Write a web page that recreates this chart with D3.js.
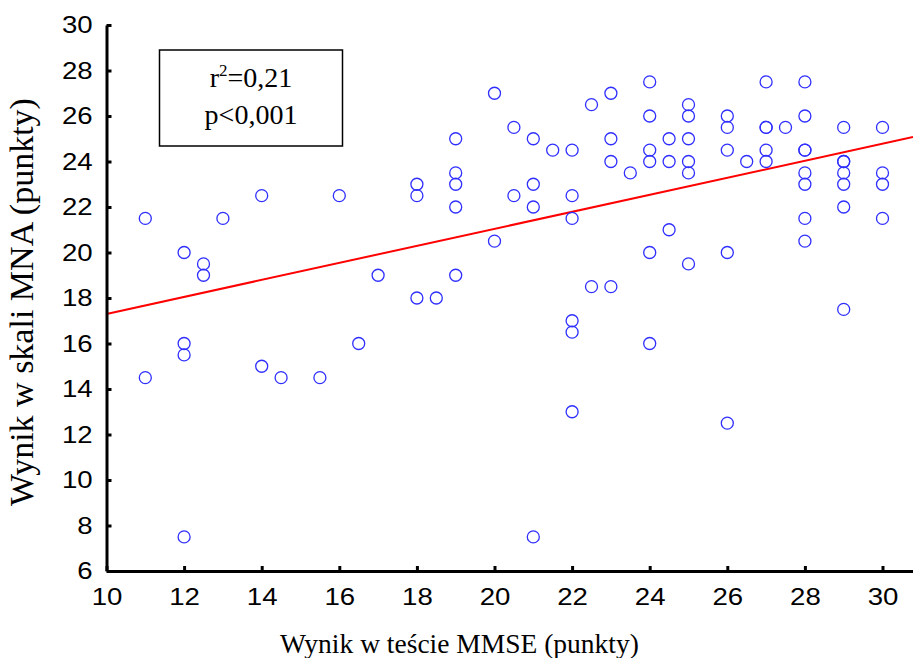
<!DOCTYPE html>
<html>
<head>
<meta charset="utf-8">
<script src="https://cdn.jsdelivr.net/npm/d3@7"></script>
<style>
  html, body { margin: 0; padding: 0; background: #fff; }
  svg { display: block; }
</style>
</head>
<body>
<svg id="chart" width="913" height="658"></svg>
<script>
// MMSE score (x) and MNA score (y) for each patient
const mmse = [
  11, 11, 12, 12, 12, 12, 12.5, 12.5, 13, 14, 14, 14.5, 15.5, 16, 16.5, 17,
  18, 18, 18, 18.5, 19, 19, 19, 19, 19, 20, 20, 20.5, 20.5,
  21, 21, 21, 21, 21.5, 22, 22, 22, 22, 22, 22, 22.5, 22.5,
  23, 23, 23, 23, 23.5, 24, 24, 24, 24, 24, 24, 24.5, 24.5, 24.5,
  25, 25, 25, 25, 25, 25, 26, 26, 26, 26, 26, 26.5,
  27, 27, 27, 27, 27, 27.5, 28, 28, 28, 28, 28, 28, 28, 28,
  29, 29, 29, 29, 29, 29, 29, 30, 30, 30, 30
];
const mna = [
  21.5, 14.5, 20, 16, 15.5, 7.5, 19.5, 19, 21.5, 22.5, 15, 14.5, 14.5, 22.5, 16, 19,
  23, 22.5, 18, 18, 25, 23.5, 23, 22, 19, 27, 20.5, 25.5, 22.5,
  25, 23, 22, 7.5, 24.5, 24.5, 22.5, 21.5, 17, 16.5, 13, 26.5, 18.5,
  27, 25, 24, 18.5, 23.5, 27.5, 26, 24.5, 24, 20, 16, 25, 24, 21,
  26.5, 26, 25, 24, 23.5, 19.5, 26, 25.5, 24.5, 20, 12.5, 24,
  27.5, 25.5, 25.5, 24.5, 24, 25.5, 27.5, 26, 24.5, 24.5, 23.5, 23, 21.5, 20.5,
  25.5, 24, 24, 23.5, 23, 22, 17.5, 25.5, 23.5, 23, 21.5
];
const xTicks = [10, 12, 14, 16, 18, 20, 22, 24, 26, 28, 30];
const yTicks = [6, 8, 10, 12, 14, 16, 18, 20, 22, 24, 26, 28, 30];
// fitted regression line: MNA = intercept + slope * MMSE
const fitIntercept = 13.56;
const fitSlope = 0.374;
const statsLines = [["r", "2", "=0,21"], ["p<0,001"]];
const xTitle = "Wynik w teście MMSE (punkty)";
const yTitle = "Wynik w skali MNA (punkty)";

const svg = d3.select("#chart");
const plotLeft = 106.5, plotRight = 913, plotTop = 25, plotBottom = 571;
const xMax = 10 + (plotRight - plotLeft) / 38.8;

const x = d3.scaleLinear().domain([10, xMax]).range([plotLeft, plotRight]);
const y = d3.scaleLinear().domain([6, 30]).range([plotBottom, plotTop]);

const serif = "'Liberation Serif', 'Times New Roman', serif";
const sans = "'Liberation Sans', Arial, sans-serif";

// regression line
svg.append("line")
  .attr("x1", x(10)).attr("y1", y(fitIntercept + fitSlope * 10))
  .attr("x2", x(xMax)).attr("y2", y(fitIntercept + fitSlope * xMax))
  .attr("stroke", "#ff0000").attr("stroke-width", 2);

// data points
svg.append("g").selectAll("circle")
  .data(mmse.map((v, i) => [v, mna[i]]))
  .join("circle")
  .attr("cx", d => x(d[0]))
  .attr("cy", d => y(d[1]))
  .attr("r", 6)
  .attr("fill", "none")
  .attr("stroke", "#2f2fff")
  .attr("stroke-width", 1.3);

// axes with inward ticks
const xAxis = svg.append("g")
  .attr("transform", `translate(0,${plotBottom})`)
  .call(d3.axisBottom(x).tickValues(xTicks).tickSizeInner(-5).tickSizeOuter(0).tickPadding(17).tickFormat(d3.format("d")));
const yAxis = svg.append("g")
  .attr("transform", `translate(${plotLeft},0)`)
  .call(d3.axisLeft(y).tickValues(yTicks).tickSizeInner(-5).tickSizeOuter(0).tickPadding(13).tickFormat(d3.format("d")));

[xAxis, yAxis].forEach(g => {
  g.select(".domain").attr("stroke", "#000").attr("stroke-width", 3);
  g.selectAll(".tick line").attr("stroke", "#000").attr("stroke-width", 3);
  g.selectAll(".tick text").attr("fill", "#000").style("font-family", sans).style("font-size", "24px");
});
// tick labels are set slightly wide
xAxis.selectAll(".tick text").attr("dy", "0.71em").attr("transform", "scale(1.15,1)");
yAxis.selectAll(".tick text").attr("x", -12).attr("transform", "scale(1.15,1)");

// statistics box
svg.append("rect")
  .attr("x", 159.5).attr("y", 50).attr("width", 183).attr("height", 96)
  .attr("fill", "#fff").attr("stroke", "#000").attr("stroke-width", 1.5);
const t1 = svg.append("text")
  .attr("x", 251).attr("y", 87)
  .attr("text-anchor", "middle")
  .style("font-family", serif).style("font-size", "28px");
t1.append("tspan").text(statsLines[0][0]);
t1.append("tspan").attr("dy", -11).style("font-size", "17px").text(statsLines[0][1]);
t1.append("tspan").attr("dy", 11).text(statsLines[0][2]);
svg.append("text")
  .attr("x", 251).attr("y", 123.5)
  .attr("text-anchor", "middle")
  .style("font-family", serif).style("font-size", "28px")
  .text(statsLines[1][0]);

// axis titles
svg.append("text")
  .attr("x", 459.5).attr("y", 653)
  .attr("text-anchor", "middle")
  .style("font-family", serif).style("font-size", "27.5px")
  .text(xTitle);
svg.append("text")
  .attr("transform", "translate(33,302) rotate(-90)")
  .attr("text-anchor", "middle")
  .style("font-family", serif).style("font-size", "34px")
  .text(yTitle);
</script>
</body>
</html>
